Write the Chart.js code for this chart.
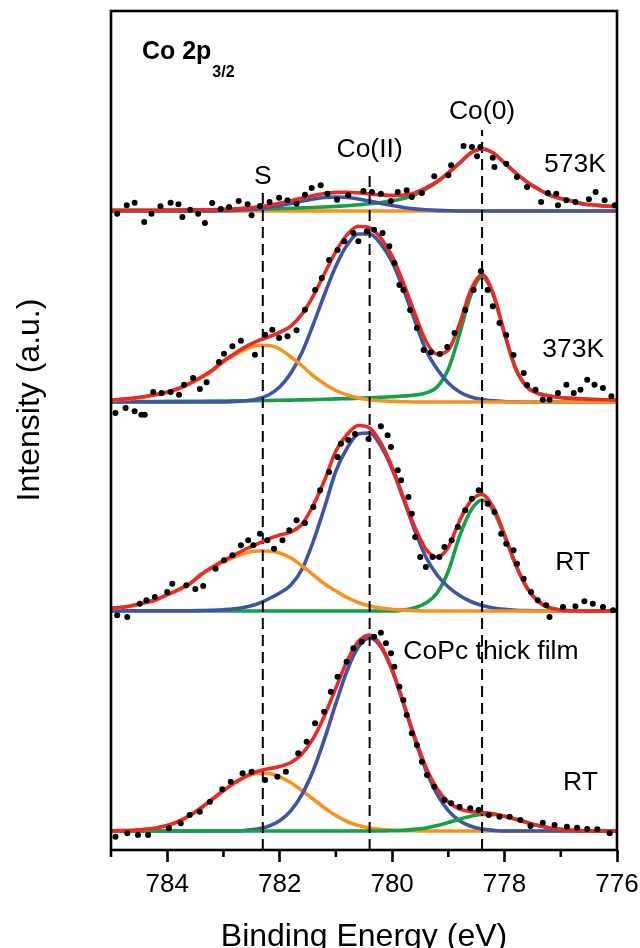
<!DOCTYPE html>
<html>
<head>
<meta charset="utf-8">
<title>Co 2p3/2 XPS</title>
<script src="https://cdn.jsdelivr.net/npm/chart.js@4.4.1/dist/chart.umd.min.js"></script>
<style>
  html, body { margin: 0; padding: 0; background: #fff; }
  canvas { display: block; }
</style>
</head>
<body>
<canvas id="xps" width="640" height="948"></canvas>
<script>
'use strict';

// binding energy grid of the fitted curves (eV)
let energy = [785, 784.8, 784.6, 784.4, 784.2, 784, 783.8, 783.6, 783.4, 783.2,
  783, 782.8, 782.6, 782.4, 782.2, 782, 781.8, 781.6, 781.4, 781.2,
  781, 780.8, 780.6, 780.4, 780.2, 780, 779.8, 779.6, 779.4, 779.2,
  779, 778.8, 778.6, 778.4, 778.2, 778, 777.8, 777.6, 777.4, 777.2,
  777, 776.8, 776.6, 776.4, 776.2, 776];

let majorTicks = [784, 782, 780, 778, 776];
let minorTicks = [785, 783, 781, 779, 777];

// vertical offset of each spectrum in the stack (a.u.)
let offsets = [639, 448, 239, 19];

// reference positions: S, Co(II), Co(0)
let refEnergy = [782.3, 780.4, 778.4];
let refTop = [661, 678, 720];

// 573K
let fit573 = [0.6, 0.7, 0.7, 0.8, 0.8, 0.9, 1.0, 1.1, 1.2, 1.3,
  1.7, 2.1, 2.9, 4.0, 5.6, 7.8, 10.3, 13.0, 15.5, 17.5,
  18.6, 18.8, 18.2, 17.1, 16.1, 15.6, 16, 18.1, 23.2, 29.6,
  38.3, 48, 58, 62, 58, 48, 38, 29, 22, 16,
  12.5, 10, 7, 6, 5, 4.5];
let coII573 = [0, 0, 0, 0, 0, 0, 0, 0, 0, 0,
  0.3, 0.6, 1.2, 2.1, 3.5, 5.4, 7.6, 9.9, 12, 13.5,
  14, 13.5, 12, 9.9, 7.6, 5.4, 3.5, 2.1, 1.2, 0.6,
  0.3, 0, 0, 0, 0, 0, 0, 0, 0, 0,
  0, 0, 0, 0, 0, 0];
let co0573 = [0.6, 0.7, 0.7, 0.8, 0.8, 0.9, 1.0, 1.1, 1.2, 1.3,
  1.4, 1.5, 1.7, 1.9, 2.1, 2.4, 2.7, 3.1, 3.5, 4.0,
  4.6, 5.3, 6.2, 7.2, 8.5, 10.2, 12.5, 16, 22, 29,
  38, 48, 58, 62, 58, 48, 38, 29, 22, 16,
  12.5, 10, 7, 6, 5, 4.5];
let s573 = [0, 0, 0, 0, 0, 0, 0, 0, 0, 0,
  0, 0, 0, 0, 0, 0, 0, 0, 0, 0,
  0, 0, 0, 0, 0, 0, 0, 0, 0, 0,
  0, 0, 0, 0, 0, 0, 0, 0, 0, 0,
  0, 0, 0, 0, 0, 0];
let dotsE573 = [784.89, 784.72, 784.58, 784.41, 784.28, 784.12, 783.94, 783.8, 783.73, 783.59,
  783.45, 783.33, 783.2, 783.05, 782.9, 782.73, 782.57, 782.5, 782.35, 782.18,
  782.01, 781.86, 781.7, 781.55, 781.43, 781.27, 781.15, 780.98, 780.78, 780.51,
  780.36, 780.2, 780.02, 779.9, 779.74, 779.65, 779.47, 779.25, 779.0, 778.95,
  778.73, 778.58, 778.49, 778.43, 778.21, 778.18, 777.97, 777.78, 777.6, 777.35,
  777.23, 777.08, 777.05, 776.9, 776.74, 776.5, 776.38, 776.22, 776.04];
let dotsI573 = [-2.7, 5.7, 8.3, -11, -2.7, 4.7, 8.3, 6.7, -6, 1.3,
  -2.7, -12, 8, 2, 4, 10, 6.7, -4.3, 5, 9,
  13.3, 10.7, 7.3, 16.3, 23, 25.7, 17.3, 11.3, 15.7, 20,
  19, 17.3, 10, 19, 20.7, 14, 18, 34.7, 35.7, 45.7,
  65, 64, 54.7, 64, 53.3, 44, 47.3, 34, 24, 9,
  18, 17.3, 5.7, 10.7, 9, 11.7, 19, 10.7, 5.7];

// 373K
let fit373 = [1.9, 2.9, 4.0, 5.5, 7.5, 10.1, 13.6, 18.7, 24.8, 31.9,
  41, 48.6, 55.4, 60.9, 65, 69.7, 75.9, 88.1, 106.4, 128.7,
  150.6, 167.4, 175.8, 174.4, 163.9, 145.9, 119.3, 89, 61, 48,
  52, 78, 112, 127.5, 108.2, 68.5, 33.2, 15, 8.5, 6,
  4.5, 3.6, 3, 2.5, 2.2, 2];
let coII373 = [0, 0, 0, 0, 0, 0, 0, 0, 0, 0,
  0, 0.5, 1.2, 3, 7, 15, 29, 50, 78, 108,
  136, 157, 168, 168, 158, 140, 113, 82, 52, 33,
  19, 10, 5, 2.5, 1.2, 0.5, 0.2, 0, 0, 0,
  0, 0, 0, 0, 0, 0];
let co0373 = [0.4, 0.4, 0.5, 0.5, 0.5, 0.6, 0.6, 0.7, 0.8, 0.9,
  1, 1.1, 1.2, 1.4, 1.5, 1.7, 1.9, 2.1, 2.4, 2.7,
  3.1, 3.4, 3.8, 4.2, 4.7, 5.3, 6, 7, 9, 15,
  33, 68, 107, 125, 107, 68, 33, 15, 8.5, 6,
  4.5, 3.6, 3, 2.5, 2.2, 2];
let s373 = [1.5, 2.5, 3.5, 5, 7, 9.5, 13, 18, 24, 31,
  40, 47, 53, 56.5, 56.5, 53, 45, 36, 26, 18,
  11.5, 7, 4, 2.2, 1.2, 0.6, 0.3, 0, 0, 0,
  0, 0, 0, 0, 0, 0, 0, 0, 0, 0,
  0, 0, 0, 0, 0, 0];
let dotsE373 = [784.92, 784.74, 784.58, 784.46, 784.4, 784.25, 784.1, 783.94, 783.79, 783.7,
  783.54, 783.42, 783.3, 783.08, 782.99, 782.84, 782.69, 782.44, 782.26, 782.13,
  782.01, 781.86, 781.7, 781.55, 781.37, 781.25, 781.12, 780.97, 780.85, 780.69,
  780.6, 780.45, 780.32, 780.17, 780.05, 779.96, 779.87, 779.8, 779.68, 779.56,
  779.44, 779.31, 779.15, 779.02, 778.89, 778.7, 778.55, 778.42, 778.3, 778.21,
  778.09, 777.97, 777.84, 777.66, 777.6, 777.45, 777.32, 777.2, 777.05, 776.9,
  776.77, 776.65, 776.53, 776.4, 776.25, 776.1];
let dotsI373 = [-11, -6, -9.3, -12.7, -12.7, 10, 9, 10, 7.3, 17.3,
  24, 13, 19.7, 40, 48.3, 55.7, 61.3, 47.3, 67.3, 72.3,
  64, 65.7, 71.7, 92.3, 112, 124, 142, 152, 160.7, 169,
  160.7, 170.7, 172.3, 169, 155.7, 139, 117, 112, 92, 74,
  52, 49.7, 48, 55, 69, 92, 112, 130.7, 112, 95.7,
  79, 67, 47, 29, 17, 12.3, 2.3, 2.3, 9, 17.3,
  9, 12.3, 22.3, 17.3, 14, 5.7];

// RT
let fitRT = [2.8, 3.8, 5.8, 8.3, 11.3, 16.3, 21.3, 27.3, 36.5, 43.8,
  50.3, 56.2, 62, 67, 72, 76, 79, 87, 106, 131,
  160, 176.5, 185.5, 183, 168, 143.7, 113.8, 84.6, 62, 54,
  64, 90.3, 110, 116.5, 103.5, 76.4, 46.4, 23.3, 9.6, 3.3,
  0.9, 0.2, 0, 0, 0, 0];
let coIIRT = [0.3, 0.3, 0.3, 0.3, 0.3, 0.3, 0.3, 0.3, 0.5, 0.8,
  1.3, 2.2, 4, 7, 12, 18, 26, 42, 70, 104,
  140, 163, 177, 178, 165, 142, 112, 81, 54, 36,
  24, 15.5, 9.5, 5.5, 3, 1.6, 0.8, 0.4, 0.2, 0.1,
  0, 0, 0, 0, 0, 0];
let co0RT = [0, 0, 0, 0, 0, 0, 0, 0, 0, 0,
  0, 0, 0, 0, 0, 0, 0, 0, 0, 0,
  0, 0, 0, 0, 0, 0, 0.9, 3.2, 8, 18,
  40, 74.8, 100.5, 111, 100.5, 74.8, 45.6, 22.9, 9.4, 3.2,
  0.9, 0.2, 0, 0, 0, 0];
let sRT = [2.5, 3.5, 5.5, 8, 11, 16, 21, 27, 36, 43,
  49, 54, 58, 60, 60, 58, 53, 45, 36, 27,
  20, 13.5, 8.5, 5, 3, 1.7, 0.9, 0.4, 0, 0,
  0, 0, 0, 0, 0, 0, 0, 0, 0, 0,
  0, 0, 0, 0, 0, 0];
let dotsERT = [784.89, 784.71, 784.49, 784.37, 784.22, 784.0, 783.91, 783.66, 783.5, 783.36,
  783.14, 782.99, 782.84, 782.69, 782.56, 782.47, 782.35, 782.22, 782.1, 781.95,
  781.83, 781.7, 781.55, 781.4, 781.28, 781.12, 780.97, 780.91, 780.78, 780.66,
  780.42, 780.2, 780.08, 780.02, 779.9, 779.84, 779.71, 779.65, 779.59, 779.5,
  779.4, 779.28, 779.16, 779.07, 778.94, 778.83, 778.7, 778.58, 778.46, 778.3,
  778.18, 778.06, 777.97, 777.84, 777.78, 777.66, 777.53, 777.41, 777.26, 777.2,
  776.96, 776.74, 776.58, 776.43, 776.25, 776.07];
let dotsIRT = [-4.3, -6, 7.3, 10.7, 14, 19, 27.3, 25.7, 22, 25,
  42.3, 50.7, 55.7, 65.7, 70.7, 65.7, 77.3, 70.7, 62.3, 70.7,
  80.7, 90.7, 88, 104, 120.7, 139, 154, 167.3, 171, 177,
  172, 184.7, 175.7, 164, 140.7, 130.7, 114, 97.3, 74, 54,
  44, 54, 54, 64, 70.7, 84, 100.7, 112.3, 120.7, 107.3,
  99, 77.3, 67.3, 60.7, 47.3, 32.3, 19, 10.7, 5.7, -6,
  4, 4.7, 9.7, 7.3, 4, 0.7];

// CoPc thick film, RT
let fitFilm = [0.2, 0.4, 0.8, 1.6, 3, 5.5, 9.5, 15.5, 23, 31.8,
  40.3, 48.2, 54.9, 59.5, 62.3, 64.4, 68.5, 77.2, 92.8, 115.5,
  143.1, 170, 189.5, 196, 185.6, 161.6, 128.7, 94.3, 64.1, 42.3,
  28.8, 22, 19.4, 18.4, 17.2, 14.7, 11.8, 8.5, 5.4, 3.1,
  1.6, 0.7, 0.3, 0, 0, 0];
let coIIFilm = [0, 0, 0, 0, 0, 0, 0, 0, 0, 0,
  0, 0, 0.7, 1.9, 4.7, 10.2, 20.3, 36.9, 61, 92.5,
  127.6, 160.5, 184, 193, 184, 160.5, 127.6, 92.5, 61, 36.9,
  20.3, 10.2, 4.7, 1.9, 0.7, 0, 0, 0, 0, 0,
  0, 0, 0, 0, 0, 0];
let co0Film = [0, 0, 0, 0, 0, 0, 0, 0, 0, 0,
  0, 0, 0, 0, 0, 0, 0, 0, 0, 0,
  0, 0, 0, 0, 0, 0.3, 0.7, 1.6, 3.1, 5.4,
  8.5, 11.8, 14.7, 16.5, 16.5, 14.7, 11.8, 8.5, 5.4, 3.1,
  1.6, 0.7, 0.3, 0, 0, 0];
let sFilm = [0.2, 0.4, 0.8, 1.6, 3, 5.5, 9.5, 15.5, 23, 31.8,
  40.3, 48.2, 54.2, 57.6, 57.6, 54.2, 48.2, 40.3, 31.8, 23,
  15.5, 9.5, 5.5, 3, 1.6, 0.8, 0.4, 0.2, 0, 0,
  0, 0, 0, 0, 0, 0, 0, 0, 0, 0,
  0, 0, 0, 0, 0, 0];
let dotsEFilm = [784.92, 784.71, 784.52, 784.34, 783.97, 783.76, 783.6, 783.42, 783.24, 783.02,
  782.87, 782.66, 782.5, 782.26, 782.04, 781.89, 781.67, 781.52, 781.37, 781.21,
  781.09, 780.97, 780.81, 780.69, 780.54, 780.32, 780.2, 780.11, 780.02, 779.96,
  779.87, 779.8, 779.74, 779.65, 779.56, 779.47, 779.38, 779.25, 779.07, 778.95,
  778.8, 778.61, 778.46, 778.28, 778.09, 777.91, 777.72, 777.54, 777.32, 777.11,
  776.89, 776.71, 776.53, 776.35, 776.13];
let dotsIFilm = [-5.7, -2.3, -4, -4, 2.7, 7.7, 16, 19.3, 29.3, 41.7,
  49.3, 57.7, 59.3, 51, 54.3, 59.3, 77.7, 89.3, 107.7, 119.3,
  139.3, 154.3, 169.3, 182.7, 189.3, 194.3, 198.3, 187.7, 177.7, 164.3,
  144.3, 131, 116, 97.7, 86, 69.3, 56, 44.3, 31, 27.7,
  24.3, 22.7, 21, 16, 14.3, 14.3, 11, 5, 8.3, 6,
  4.3, 3.3, 2, 1.7, -2.3];

// colours
let red = '#ec2a25';
let blue = '#3e54a5';
let orange = '#f7921e';
let green = '#14a049';

let fontFamily = "'Liberation Sans', Arial, Helvetica, sans-serif";

// each spectrum: components listed from top-most to bottom-most
let spectra = [
  { off: offsets[0], dotsE: dotsE573, dotsI: dotsI573, fit: fit573,
    parts: [[coII573, blue], [co0573, green], [s573, orange]] },
  { off: offsets[1], dotsE: dotsE373, dotsI: dotsI373, fit: fit373,
    parts: [[s373, orange], [coII373, blue], [co0373, green]] },
  { off: offsets[2], dotsE: dotsERT, dotsI: dotsIRT, fit: fitRT,
    parts: [[sRT, orange], [coIIRT, blue], [co0RT, green]] },
  { off: offsets[3], dotsE: dotsEFilm, dotsI: dotsIFilm, fit: fitFilm,
    parts: [[co0Film, green], [coIIFilm, blue], [sFilm, orange]] }
];

function curvePoints(vals, off) {
  return vals.map((v, i) => ({ x: energy[i], y: v + off }));
}

function lineSet(data, color, order) {
  return {
    data: data,
    borderColor: color,
    borderWidth: 3.6,
    pointRadius: 0,
    fill: false,
    cubicInterpolationMode: 'monotone',
    order: order
  };
}

let datasets = [];

spectra.forEach(function (sp) {
  datasets.push({
    data: sp.dotsE.map((e, i) => ({ x: e, y: sp.dotsI[i] + sp.off })),
    showLine: false,
    pointRadius: 3,
    pointBackgroundColor: '#000',
    pointBorderWidth: 0,
    order: 0
  });
  datasets.push(lineSet(curvePoints(sp.fit, sp.off), red, 1));
  sp.parts.forEach(function (p, k) {
    datasets.push(lineSet(curvePoints(p[0], sp.off), p[1], 3 + k));
  });
});

// dashed markers at S, Co(II) and Co(0)
refEnergy.forEach(function (e, i) {
  datasets.push({
    data: [{ x: e, y: 0 }, { x: e, y: refTop[i] }],
    borderColor: '#000',
    borderWidth: 2,
    borderDash: [11, 6],
    pointRadius: 0,
    order: 2
  });
});

// text placed in energy / intensity units: [text, energy, intensity, align]
let notes = [
  ['S', 782.3, 666, 'center'],
  ['Co(II)', 780.4, 693, 'center'],
  ['Co(0)', 778.4, 731, 'center'],
  ['573K', 777.3, 678, 'left'],
  ['373K', 777.33, 493, 'left'],
  ['RT', 777.1, 280, 'left'],
  ['CoPc thick film', 779.8, 191, 'left'],
  ['RT', 776.96, 60, 'left']
];

let frame = {
  id: 'frame',
  afterDraw(chart) {
    let ctx = chart.ctx;
    let a = chart.chartArea;
    let x = chart.scales.x;
    let y = chart.scales.y;
    ctx.save();
    ctx.strokeStyle = '#000';
    ctx.lineWidth = 2.6;
    ctx.strokeRect(a.left, a.top, a.right - a.left, a.bottom - a.top);

    // short unlabelled ticks
    minorTicks.forEach(function (v) {
      let px = x.getPixelForValue(v);
      ctx.beginPath();
      ctx.moveTo(px, a.bottom);
      ctx.lineTo(px, a.bottom + 7);
      ctx.stroke();
    });

    ctx.fillStyle = '#000';
    ctx.textBaseline = 'alphabetic';
    ctx.font = '26.5px ' + fontFamily;
    notes.forEach(function (n) {
      ctx.textAlign = n[3];
      ctx.fillText(n[0], x.getPixelForValue(n[1]), y.getPixelForValue(n[2]));
    });

    // panel title with subscript
    ctx.textAlign = 'left';
    ctx.font = 'bold 25px ' + fontFamily;
    let tx = x.getPixelForValue(784.45);
    let ty = y.getPixelForValue(791);
    ctx.fillText('Co 2p', tx, ty);
    let w = ctx.measureText('Co 2p').width;
    ctx.font = 'bold 16px ' + fontFamily;
    ctx.fillText('3/2', tx + w + 1, ty + 18);

    // axis titles
    ctx.font = '32px ' + fontFamily;
    ctx.textAlign = 'center';
    ctx.fillText('Binding Energy (eV)', (a.left + a.right) / 2, 946);
    ctx.translate(39, 400);
    ctx.rotate(-Math.PI / 2);
    ctx.fillText('Intensity (a.u.)', 0, 0);
    ctx.restore();
  }
};

let config = {
  type: 'line',
  data: { datasets: datasets },
  options: {
    responsive: false,
    animation: false,
    devicePixelRatio: 1,
    layout: { padding: { left: 111, right: 23, top: 11, bottom: 0 } },
    plugins: {
      legend: { display: false },
      tooltip: { enabled: false }
    },
    scales: {
      x: {
        type: 'linear',
        reverse: true,
        min: 776,
        max: 785,
        afterBuildTicks: function (scale) {
          scale.ticks = majorTicks.map(v => ({ value: v }));
        },
        afterFit: function (scale) {
          scale.height = 98;
          scale.paddingLeft = 0;
          scale.paddingRight = 0;
        },
        border: { display: false },
        grid: {
          drawOnChartArea: false,
          drawTicks: true,
          tickLength: 12,
          tickWidth: 2.6,
          tickColor: '#000'
        },
        ticks: {
          color: '#000',
          padding: 7,
          maxRotation: 0,
          autoSkip: false,
          font: { family: fontFamily, size: 26 }
        }
      },
      y: {
        display: false,
        min: 0,
        max: 839
      }
    }
  },
  plugins: [frame]
};

let xpsChart = new Chart(document.getElementById('xps'), config);
</script>
</body>
</html>
